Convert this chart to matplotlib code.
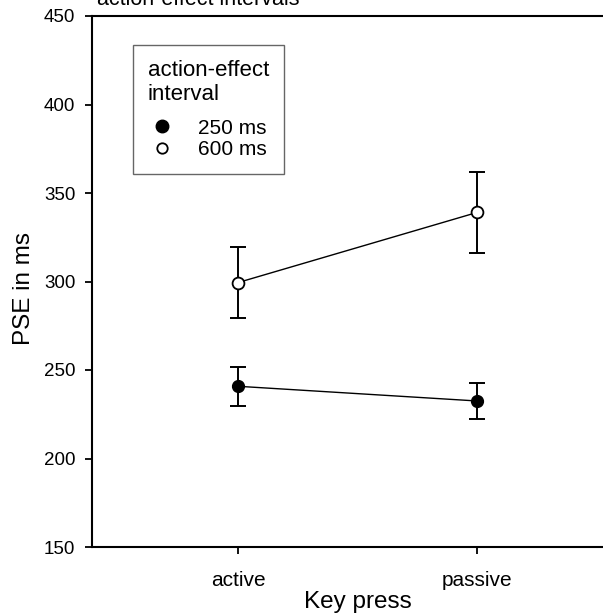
import numpy as np
import matplotlib
matplotlib.use("Agg")
import matplotlib.pyplot as plt
from matplotlib.lines import Line2D

plt.rcParams['font.family'] = ['Liberation Sans', 'DejaVu Sans']

# data
key_press = ['active', 'passive']
pse_250 = [240.8, 232.5]
err_250 = [11.0, 10.2]
pse_600 = [299.4, 339.0]
err_600 = [20.3, 23.0]

fig = plt.figure(figsize=(6.03, 6.16), dpi=100)
# axes runs a little past the right edge, like the source figure
ax = fig.add_axes([92/603, 1 - 547/616, (623 - 92)/603, (547 - 16)/616])

x = np.arange(1, len(key_press) + 1)

ax.plot(x, pse_250, color='black', lw=1.0, zorder=2)
ax.errorbar(x, pse_250, yerr=err_250, fmt='none', ecolor='black',
            elinewidth=1.4, capsize=6, capthick=1.4, zorder=3)
ax.plot(x, pse_250, 'o', ms=8.5, mfc='black', mec='black', mew=1.0, zorder=4)

ax.plot(x, pse_600, color='black', lw=1.0, zorder=2)
ax.errorbar(x, pse_600, yerr=err_600, fmt='none', ecolor='black',
            elinewidth=1.4, capsize=6, capthick=1.4, zorder=3)
ax.plot(x, pse_600, 'o', ms=8.5, mfc='white', mec='black', mew=1.3, zorder=4)

ax.set_xlim(0.389, 2.611)
ax.set_ylim(150, 450)
ax.set_yticks(np.arange(150, 451, 50))
ax.set_xticks(x)
ax.set_xticklabels(key_press)

for s in ax.spines.values():
    s.set_linewidth(1.5)
ax.tick_params(direction='out', length=5, width=1.3, labelsize=13.5, pad=7)
ax.tick_params(axis='x', labelsize=15, pad=12)

ax.set_xlabel('Key press', fontsize=17.5, labelpad=1)
ax.set_ylabel('PSE in ms', fontsize=17.5)
ax.yaxis.set_label_coords(-0.108, 0.486)

# title sits mostly above the figure edge
fig.text(97/603, 1 - 5/616, 'action-effect intervals', fontsize=15.5,
         ha='left', va='baseline')

handles = [
    Line2D([], [], ls='none', marker='o', ms=9, mfc='black', mec='black'),
    Line2D([], [], ls='none', marker='o', ms=7.5, mfc='white', mec='black', mew=1.3),
]
leg = ax.legend(handles, ['250 ms', '600 ms'], title='action-effect\ninterval',
                loc='upper left', bbox_to_anchor=(41/531, 1 - 29/531),
                frameon=True, fancybox=False, edgecolor='#404040',
                fontsize=15, title_fontsize=16, handletextpad=1.0,
                borderpad=0.7, labelspacing=0.12, handlelength=1.4,
                borderaxespad=0)
leg._legend_box.align = 'left'
leg._legend_box.sep = 10
leg.get_frame().set_linewidth(1.0)

fig.savefig('out.png', dpi=100)
